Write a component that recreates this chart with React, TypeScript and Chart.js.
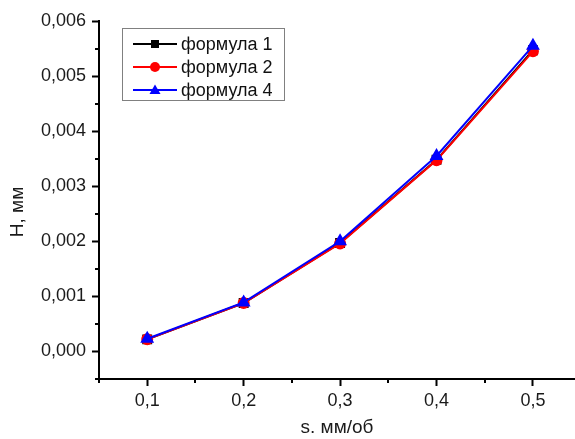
import React, { useEffect, useRef } from "react";
import { Chart, registerables } from "chart.js";

Chart.register(...registerables);

const sValues = [0.1, 0.2, 0.3, 0.4, 0.5];
const formula1 = [0.00022, 0.00088, 0.00197, 0.00348, 0.00547];
const formula2 = [0.00022, 0.00088, 0.00196, 0.00347, 0.00545];
const formula4 = [0.00023, 0.00089, 0.002, 0.00355, 0.00555];
const seriesNames = ["формула 1", "формула 2", "формула 4"];
const seriesColors = ["#000000", "#ff0000", "#0000ff"];
const seriesMarkers = ["rect", "circle", "triangle"];
const xMajorTicks = [0.1, 0.2, 0.3, 0.4, 0.5];
const xMinorTicks = [0.05, 0.15, 0.25, 0.35, 0.45, 0.55];
const yMajorTicks = [0, 0.001, 0.002, 0.003, 0.004, 0.005, 0.006];
const yMinorTicks = [-0.0005, 0.0005, 0.0015, 0.0025, 0.0035, 0.0045, 0.0055];
const xTitle = "s. мм/об";
const yTitle = "H, мм";

const FONT = '"Liberation Sans", Arial, sans-serif';

function drawMarker(ctx: CanvasRenderingContext2D, style: string, x: number, y: number, color: string) {
  ctx.save();
  ctx.fillStyle = color;
  ctx.beginPath();
  if (style === "rect") {
    ctx.rect(x - 4, y - 4, 8, 8);
  } else if (style === "circle") {
    ctx.arc(x, y, 5, 0, Math.PI * 2);
  } else {
    ctx.moveTo(x, y - 5.5);
    ctx.lineTo(x + 5.5, y + 4);
    ctx.lineTo(x - 5.5, y + 4);
    ctx.closePath();
  }
  ctx.fill();
  ctx.restore();
}

const extrasPlugin = {
  id: "extras",
  afterDraw(chart: any) {
    const ctx: CanvasRenderingContext2D = chart.ctx;
    const xs = chart.scales.x;
    const ys = chart.scales.y;
    const area = chart.chartArea;
    ctx.save();
    // minor ticks
    ctx.strokeStyle = "#000";
    ctx.lineWidth = 2;
    ctx.beginPath();
    xMinorTicks.forEach((v) => {
      const px = Math.round(xs.getPixelForValue(v));
      if (px > chart.width) return;
      ctx.moveTo(px, area.bottom);
      ctx.lineTo(px, area.bottom + 4);
    });
    yMinorTicks.forEach((v) => {
      const py = Math.round(ys.getPixelForValue(v));
      ctx.moveTo(area.left, py);
      ctx.lineTo(area.left - 4, py);
    });
    ctx.stroke();

    // y title
    ctx.save();
    ctx.translate(17.5, 212);
    ctx.rotate(-Math.PI / 2);
    ctx.font = `19px ${FONT}`;
    ctx.fillStyle = "#1a1a1a";
    ctx.textAlign = "center";
    ctx.textBaseline = "middle";
    ctx.fillText(yTitle, 0, 0);
    ctx.restore();

    // legend box
    const bx = 122.5, by = 28.5, bw = 162, bh = 72;
    ctx.fillStyle = "#ffffff";
    ctx.fillRect(bx, by, bw, bh);
    ctx.strokeStyle = "#808080";
    ctx.lineWidth = 1;
    ctx.strokeRect(bx, by, bw, bh);
    const rows = [44, 67, 90];
    seriesNames.forEach((name, i) => {
      const ry = rows[i];
      ctx.strokeStyle = seriesColors[i];
      ctx.lineWidth = 2;
      ctx.beginPath();
      ctx.moveTo(133, ry);
      ctx.lineTo(177, ry);
      ctx.stroke();
      drawMarker(ctx, seriesMarkers[i], 155, ry, seriesColors[i]);
      ctx.font = `18px ${FONT}`;
      ctx.fillStyle = "#111";
      ctx.textAlign = "left";
      ctx.textBaseline = "middle";
      ctx.fillText(name, 181, ry + 1);
    });
    ctx.restore();
  },
};

export default function App() {
  const canvasRef = useRef<HTMLCanvasElement | null>(null);

  useEffect(() => {
    document.body.style.margin = "0";
    const canvas = canvasRef.current;
    if (!canvas) return;
    const mk = (data: number[]) => data.map((y, i) => ({ x: sValues[i], y }));
    const chart = new Chart(canvas, {
      type: "line",
      data: {
        datasets: [
          {
            label: seriesNames[0],
            data: mk(formula1),
            borderColor: seriesColors[0],
            backgroundColor: seriesColors[0],
            pointStyle: "rect",
            pointRadius: 5.6,
            borderWidth: 2,
            order: 3,
          },
          {
            label: seriesNames[1],
            data: mk(formula2),
            borderColor: seriesColors[1],
            backgroundColor: seriesColors[1],
            pointStyle: "circle",
            pointRadius: 5,
            borderWidth: 2,
            order: 2,
          },
          {
            label: seriesNames[2],
            data: mk(formula4),
            borderColor: seriesColors[2],
            backgroundColor: seriesColors[2],
            pointStyle: "triangle",
            pointRadius: 6,
            borderWidth: 2,
            order: 1,
          },
        ],
      },
      options: {
        responsive: false,
        animation: false,
        devicePixelRatio: 1,
        layout: { autoPadding: false, padding: { top: 21, left: 0, right: 0, bottom: 0 } },
        plugins: { legend: { display: false }, tooltip: { enabled: false } },
        elements: { point: { borderWidth: 1 }, line: { tension: 0 } },
        scales: {
          x: {
            type: "linear",
            min: 0.05,
            max: 0.5436,
            afterBuildTicks: (axis: any) => {
              axis.ticks = xMajorTicks.map((v) => ({ value: v }));
            },
            afterFit: (scale: any) => {
              scale.height = 60;
              scale.paddingLeft = 0;
              scale.paddingRight = 0;
            },
            grid: { drawOnChartArea: false, drawTicks: true, tickLength: 7, tickWidth: 2, tickColor: "#000" },
            border: { display: true, color: "#000", width: 2 },
            ticks: {
              padding: 4,
              color: "#1a1a1a",
              font: { family: FONT, size: 18 },
              maxRotation: 0,
              callback: (v: any) => Number(v).toFixed(1).replace(".", ","),
            },
            title: {
              display: true,
              text: xTitle,
              color: "#1a1a1a",
              font: { family: FONT, size: 19 },
              padding: { top: 0, bottom: 0 },
            },
          },
          y: {
            type: "linear",
            min: -0.0005,
            max: 0.006,
            afterBuildTicks: (axis: any) => {
              axis.ticks = yMajorTicks.map((v) => ({ value: v }));
            },
            afterFit: (scale: any) => {
              scale.width = 99;
              scale.paddingTop = 0;
              scale.paddingBottom = 0;
            },
            grid: { drawOnChartArea: false, drawTicks: true, tickLength: 7, tickWidth: 2, tickColor: "#000" },
            border: { display: true, color: "#000", width: 2 },
            ticks: {
              padding: 6,
              color: "#1a1a1a",
              font: { family: FONT, size: 18 },
              callback: (v: any) => Number(v).toFixed(3).replace(".", ","),
            },
          },
        },
      },
      plugins: [extrasPlugin],
    });
    return () => chart.destroy();
  }, []);

  return (
    <div style={{ position: "absolute", left: 0, top: 0, width: 575, height: 439, background: "#fff" }}>
      <canvas ref={canvasRef} width={575} height={439} />
    </div>
  );
}
